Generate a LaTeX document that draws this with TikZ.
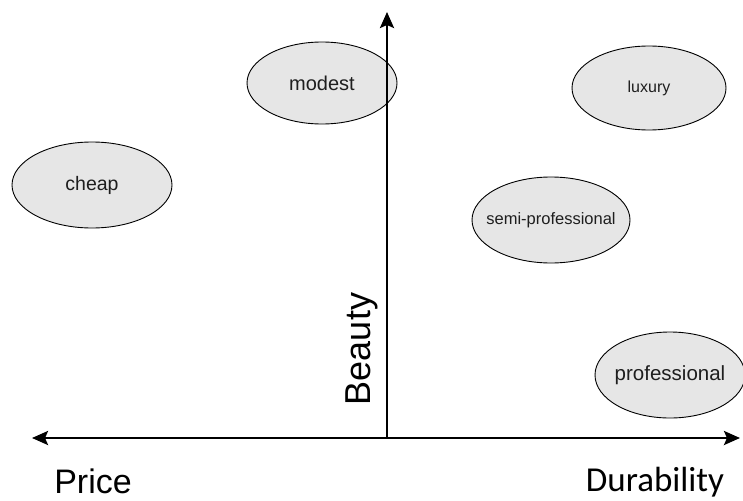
\documentclass[tikz,border=0pt]{standalone}
\usepackage{fontspec}
\setmainfont{Liberation Sans}
\newfontfamily\calibrifont{Carlito}
\usepackage{xcolor}
\usetikzlibrary{shapes,arrows.meta,positioning}
\definecolor{ovalgray}{RGB}{230,230,230}
\definecolor{ovaltext}{RGB}{30,30,30}
\newcommand{\ovaltxt}[1]{\makebox[0pt]{#1}}

\begin{document}
\begin{tikzpicture}[
    x=1pt, y=-1pt,
    oval/.style={ellipse, draw, fill=ovalgray, line width=0.9pt, inner sep=0pt, text=ovaltext},
    axis/.style={line width=2.6pt, {Stealth[length=16pt,width=14pt,inset=3pt]}-{Stealth[length=16pt,width=14pt,inset=3pt]}},
    uparrow/.style={line width=2.6pt, -{Stealth[length=16pt,width=14pt,inset=3pt]}},
    lbl/.style={inner sep=0pt, anchor=base}
]
\useasboundingbox (0,0) rectangle (743,500);

\node[oval, minimum width=150pt, minimum height=82pt, font=\fontsize{20}{24}\selectfont] (modest) at (322, 83) {\ovaltxt{modest}};
\node[oval, minimum width=160pt, minimum height=86pt, font=\fontsize{19.5}{23}\selectfont] (cheap) at (92, 185) {\ovaltxt{cheap}};
\node[oval, minimum width=154pt, minimum height=84pt, font=\fontsize{16}{19}\selectfont] (luxury) at (649, 88) {\ovaltxt{luxury}};
\node[oval, minimum width=158pt, minimum height=86pt, font=\fontsize{16.5}{19}\selectfont] (semipro) at (551, 220) {\ovaltxt{semi-professional}};
\node[oval, minimum width=150pt, minimum height=86pt, font=\fontsize{20.5}{24}\selectfont] (pro) at (670, 375) {\ovaltxt{professional}};

\coordinate (origin) at (387, 438);
\coordinate (priceend) at (32, 438);
\coordinate (durend) at (740, 438);
\coordinate (beautyend) at (387, 12);

\draw[axis] (priceend) -- (durend);
\draw[uparrow] (origin) -- (beautyend);

\node[lbl, font=\fontsize{34}{40}\selectfont] (price) at (93, 493) {Price};
\node[lbl, font=\calibrifont\fontsize{35}{40}\selectfont] (durability) at (655, 491) {Durability};
\node[lbl, rotate=90, font=\fontsize{36}{40}\selectfont] (beauty) at (370, 349) {Beauty};
\end{tikzpicture}
\end{document}
